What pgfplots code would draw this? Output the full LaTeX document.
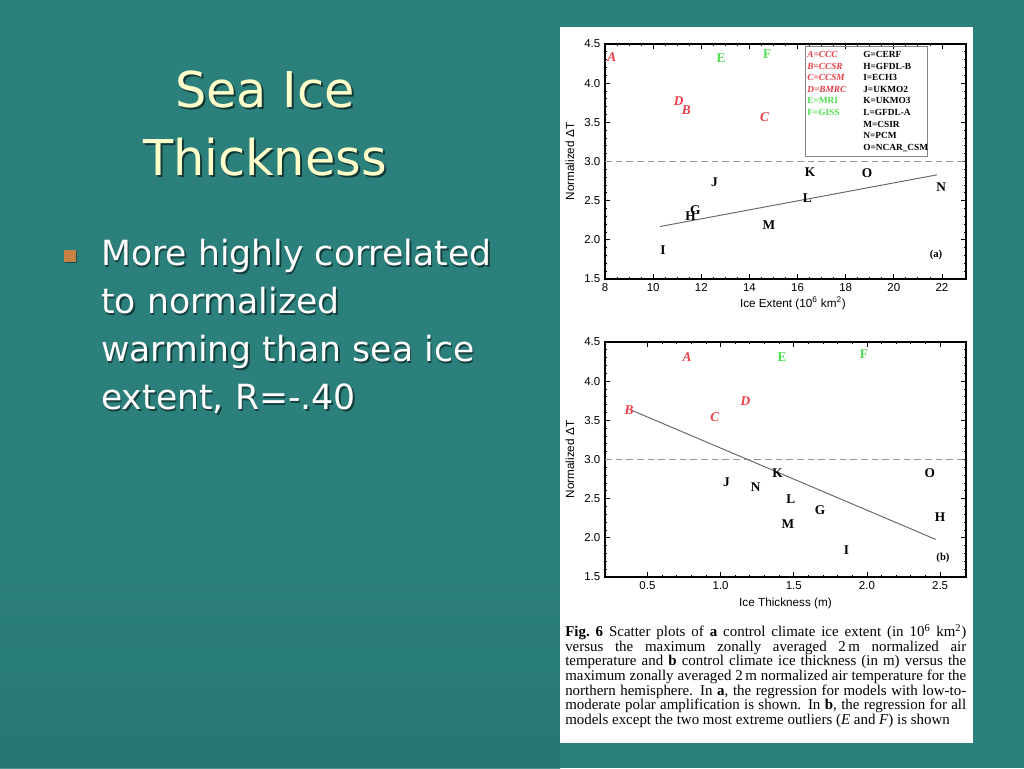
\documentclass[border=0pt]{standalone}
\usepackage{pgfplots}
\pgfplotsset{compat=1.18}
\usepackage{fontspec}
\setmainfont{DejaVu Sans}
\newfontfamily\helv{Liberation Sans}
\newfontfamily\tms{Liberation Serif}

\definecolor{slidebg}{RGB}{44,128,124}
\definecolor{slidedk}{RGB}{36,118,114}
\definecolor{titleyel}{RGB}{255,255,204}
\definecolor{bulletc}{RGB}{200,130,70}
\definecolor{idlred}{RGB}{235,60,70}
\definecolor{idlgreen}{RGB}{80,220,80}
\definecolor{idlgray}{RGB}{100,100,100}

\newcommand{\lblfont}{\helv\fontsize{8.8}{9}\selectfont}
\newcommand{\tickfont}{\helv\fontsize{8.6}{9}\selectfont}

\pgfplotsset{
  idl/.style={
    scale only axis,
    width=270.75pt, height=176.25pt,
    ymin=1.5, ymax=4.5,
    ytick={1.5,2,2.5,3,3.5,4,4.5},
    minor y tick num=4,
    yticklabel style={/pgf/number format/fixed, /pgf/number format/fixed zerofill,
      /pgf/number format/precision=1},
    tick align=inside,
    major tick length=3.5pt, minor tick length=1.8pt,
    axis line style={line width=0.9pt},
    tick style={black, line width=0.6pt},
    /pgf/number format/assume math mode=true,
    every tick label/.append style={font=\tickfont},
    ylabel={Normalized ΔT},
    every axis y label/.style={at={(rel axis cs:0,0.5)}, xshift=-26.25pt, rotate=90,
      anchor=center, font=\lblfont},
    clip=false,
  },
  letters/.style={only marks, mark=none, nodes near coords, point meta=explicit symbolic,
    every node near coord/.append style={anchor=center, inner sep=0pt,
      font=\tms\bfseries\fontsize{10}{10}\selectfont}},
  redl/.style={letters, every node near coord/.append style={text=idlred,
      font=\tms\bfseries\itshape\fontsize{10}{10}\selectfont}},
  greenl/.style={letters, every node near coord/.append style={text=idlgreen}},
  blackl/.style={letters, every node near coord/.append style={text=black}},
}

\begin{document}
\begin{tikzpicture}[x=0.75pt,y=0.75pt]
% slide background
\fill[slidebg] (0,0) rectangle (1024,768);
\shade[top color=slidebg, bottom color=slidedk, opacity=0.8] (0,0) rectangle (560,220);

% title
\foreach \t/\yy in {Sea Ice/660, Thickness/592}{
  \node[anchor=base, text=black, opacity=0.55, font=\fontsize{37}{40}\selectfont] at (267,\yy-2) {\t};
  \node[anchor=base, text=titleyel, font=\fontsize{37}{40}\selectfont] at (265,\yy) {\t};
}

% bullet
\fill[black, opacity=0.4] (65,505) rectangle (77,517);
\fill[bulletc] (64,506) rectangle (76,518);
\foreach \t/\yy in {More highly correlated/502, to normalized/454, warming than sea ice/406, {extent, R=-.40}/358}{
  \node[anchor=base west, text=black, opacity=0.5, inner sep=0pt, font=\fontsize{26}{30}\selectfont] at (102.5,\yy-1.5) {\t};
  \node[anchor=base west, text=white, inner sep=0pt, font=\fontsize{26}{30}\selectfont] at (101,\yy) {\t};
}

% white panel
\fill[white] (560,25) rectangle (973,741);

% ---- (a) ice extent ----
\begin{axis}[idl, at={(453.75pt,366.75pt)}, anchor=south west,
  xmin=8, xmax=23, xtick={8,10,...,22}, minor x tick num=3,
  xlabel={Ice Extent (10\textsuperscript{6} km\textsuperscript{2})},
  every axis x label/.style={at={(rel axis cs:0.5,0)}, xshift=5.5pt, yshift=-18pt,
    anchor=center, font=\lblfont}]
\addplot[idlgray!70, dashed, line width=0.7pt, dash pattern=on 5pt off 3pt] coordinates {(8,3) (23,3)};
\addplot[idlgray, line width=0.7pt] coordinates {(10.29,2.17) (21.8,2.83)};
\addplot[redl] table[meta=l] {
x y l
8.28 4.33 A
11.38 3.66 B
14.63 3.57 C
11.06 3.77 D
};
\addplot[greenl] table[meta=l] {
x y l
12.82 4.32 E
14.74 4.37 F
};
\addplot[blackl] table[meta=l] {
x y l
11.75 2.38 G
11.55 2.30 H
10.41 1.87 I
12.55 2.73 J
16.52 2.86 K
16.41 2.53 L
14.81 2.19 M
21.97 2.67 N
18.89 2.85 O
};
\end{axis}
% legend box of (a)
\draw[idlgray!80, line width=0.5pt] (805,722) rectangle (927,612);
\node[anchor=north west, align=left, inner sep=0pt, text=idlred,
  font=\tms\bfseries\itshape\fontsize{7}{8.7}\selectfont] at (807,717)
  {A=CCC\\B=CCSR\\C=CCSM\\D=BMRC};
\node[anchor=north west, align=left, inner sep=0pt, text=idlgreen,
  font=\tms\bfseries\fontsize{7}{8.7}\selectfont] at (807,670.6)
  {E=MRI\\F=GISS};
\node[anchor=north west, align=left, inner sep=0pt, text=black,
  font=\tms\bfseries\fontsize{7}{8.7}\selectfont] at (863,717)
  {G=CERF\\H=GFDL-B\\I=ECH3\\J=UKMO2\\K=UKMO3\\L=GFDL-A\\M=CSIR\\N=PCM\\O=NCAR\_CSM};
\node[anchor=center, font=\tms\bfseries\fontsize{8}{8}\selectfont] at (936,513) {(a)};

% ---- (b) ice thickness ----
\begin{axis}[idl, at={(453.75pt,143.25pt)}, anchor=south west,
  xmin=0.21, xmax=2.677, xtick={0.5,1,1.5,2,2.5}, minor x tick num=4,
  xticklabel style={/pgf/number format/fixed, /pgf/number format/fixed zerofill,
    /pgf/number format/precision=1},
  xlabel={Ice Thickness (m)},
  every axis x label/.style={at={(rel axis cs:0.5,0)}, yshift=-19.5pt,
    anchor=center, font=\lblfont}]
\addplot[idlgray!70, dashed, line width=0.7pt, dash pattern=on 5pt off 3pt] coordinates {(0.21,3) (2.677,3)};
\addplot[idlgray, line width=0.7pt] coordinates {(0.39,3.63) (2.47,1.98)};
\addplot[redl] table[meta=l] {
x y l
0.77 4.31 A
0.375 3.63 B
0.96 3.54 C
1.17 3.74 D
};
\addplot[greenl] table[meta=l] {
x y l
1.42 4.31 E
1.98 4.34 F
};
\addplot[blackl] table[meta=l] {
x y l
1.68 2.35 G
2.50 2.26 H
1.86 1.84 I
1.04 2.71 J
1.39 2.83 K
1.48 2.50 L
1.46 2.17 M
1.24 2.65 N
2.43 2.82 O
};
\end{axis}
\node[anchor=center, font=\tms\bfseries\fontsize{8}{8}\selectfont] at (943,210) {(b)};

% caption
\node[anchor=north west, inner sep=0pt, text width=300.75pt, align=justify,
  font=\tms\fontsize{11.2}{11}\selectfont] at (565,144) {%
\textbf{Fig.\ 6} Scatter plots of \textbf{a} control climate ice extent (in 10\textsuperscript{6} km\textsuperscript{2})\linebreak
versus the maximum zonally averaged 2\,m normalized air\linebreak
temperature and \textbf{b} control climate ice thickness (in m) versus the\linebreak
maximum zonally averaged 2\,m normalized air temperature for the\linebreak
northern hemisphere. In \textbf{a}, the regression for models with low-to-\linebreak
moderate polar amplification is shown. In \textbf{b}, the regression for all\linebreak
models except the two most extreme outliers (\textit{E} and \textit{F}) is shown};
\end{tikzpicture}
\end{document}
